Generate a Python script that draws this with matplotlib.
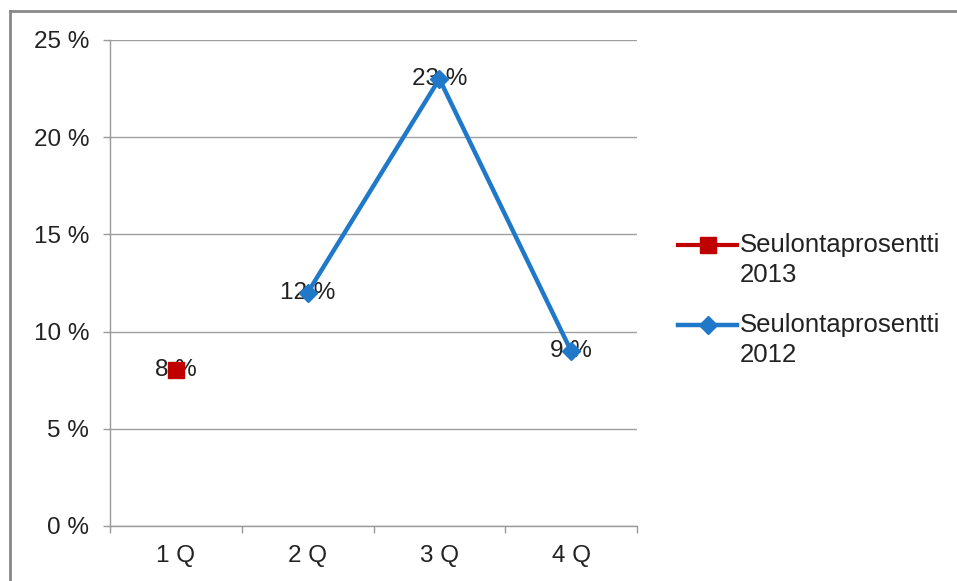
import matplotlib
matplotlib.use("Agg")
import matplotlib.pyplot as plt
import numpy as np
from matplotlib.lines import Line2D
from matplotlib.legend_handler import HandlerLine2D

categories = ["1 Q", "2 Q", "3 Q", "4 Q"]
s2013 = [8, np.nan, np.nan, np.nan]
s2012 = [np.nan, 12, 23, 9]
yticks = [0, 5, 10, 15, 20, 25]
ytick_labels = ["0 %", "5 %", "10 %", "15 %", "20 %", "25 %"]
name2013 = "Seulontaprosentti\n2013"
name2012 = "Seulontaprosentti\n2012"

plt.rcParams['font.family'] = ['Liberation Sans', 'DejaVu Sans']


class HandlerFirstLine(HandlerLine2D):
    """Place the legend handle at the level of the first text line."""
    def adjust_drawing_area(self, legend, orig_handle, xdescent, ydescent,
                            width, height, fontsize):
        xd, yd, w, h = super().adjust_drawing_area(legend, orig_handle, xdescent, ydescent,
                                                   width, height, fontsize)
        return xd, yd - 1.2 * fontsize, w, h


fig = plt.figure(figsize=(9.57, 5.81), dpi=100)
ax = fig.add_axes([110/957, 1-526/581, (637-110)/957, (526-40)/581])

x = np.arange(len(categories))
red = "#C00000"
blue = "#1F78C8"
txtc = "#222222"
l1, = ax.plot(x, s2013, color=red, lw=3, marker="s", ms=12, zorder=5, label=name2013)
l2, = ax.plot(x, s2012, color=blue, lw=3.2, marker="D", ms=9, zorder=5, label=name2012)

for xs, vals in [(x, s2013), (x, s2012)]:
    for xi, v in zip(xs, vals):
        if not np.isnan(v):
            ax.text(xi, v, f"{v:g} %", ha="center", va="center", fontsize=17.5,
                    color=txtc, zorder=3)

ax.set_xlim(-0.5, 3.5)
ax.set_ylim(0, 25)
ax.set_yticks(yticks)
ax.set_yticklabels(ytick_labels, fontsize=17.5, color=txtc)
ax.set_xticks(x)
ax.set_xticklabels(categories, fontsize=17.5, color=txtc)
ax.set_xticks(np.arange(-0.5, 4.0, 1.0), minor=True)
ax.tick_params(axis="x", which="major", length=0, pad=14)
ax.tick_params(axis="x", which="minor", length=5, color="#999999", width=1)
ax.tick_params(axis="y", length=5, color="#999999", width=1, pad=10)
ax.grid(axis="y", color="#a0a0a0", lw=1)
ax.set_axisbelow(True)
for s in ["top", "right"]:
    ax.spines[s].set_visible(False)
for s in ["left", "bottom"]:
    ax.spines[s].set_color("#999999")
    ax.spines[s].set_linewidth(1)

h = HandlerFirstLine()
leg = fig.legend(handles=[l1, l2], loc="center left", bbox_to_anchor=(655/957, 1-300/581),
                 frameon=False, fontsize=18.5, handlelength=2.3, handletextpad=0.1,
                 labelspacing=1.0, handler_map={l1: h, l2: h})
for t in leg.get_texts():
    t.set_color(txtc)
    t.set_linespacing(1.35)

# outer frame
fig.add_artist(Line2D([10/957, 10/957], [0, 1-11/581], transform=fig.transFigure, color="#888888", lw=2))
fig.add_artist(Line2D([10/957, 1], [1-11/581, 1-11/581], transform=fig.transFigure, color="#888888", lw=2))

fig.savefig("out.png", dpi=100)
